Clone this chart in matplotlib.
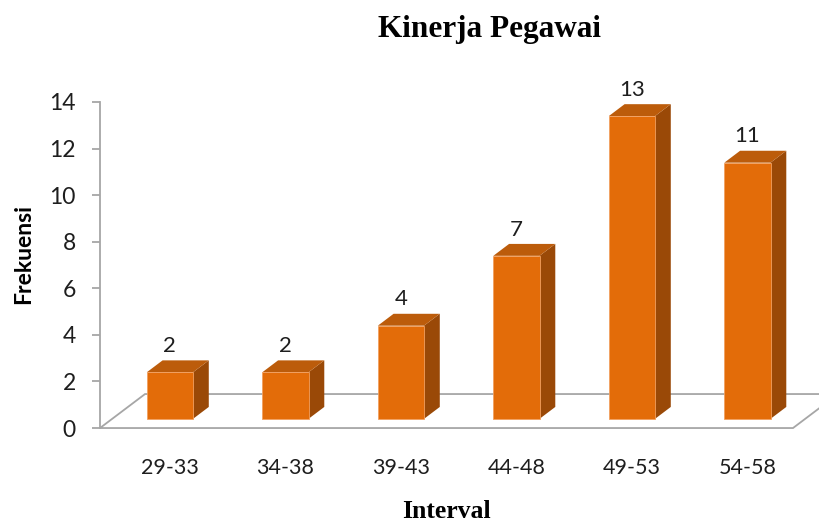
import matplotlib.pyplot as plt
from matplotlib.patches import Polygon

# Data
intervals = ["29-33", "34-38", "39-43", "44-48", "49-53", "54-58"]
frekuensi = [2, 2, 4, 7, 13, 11]
y_ticks = [0, 2, 4, 6, 8, 10, 12, 14]

# 3D look: floor depth offsets (x in category units, y in value units)
DX = 0.39
DY = 1.46
Z_FRONT = 0.27   # bar front face depth position on the floor
DEPTH = 0.35     # bar depth as a fraction of floor depth
BAR_W = 0.40

C_FRONT = '#E36C09'
C_TOP = '#BC5C0B'
C_SIDE = '#9A4907'
C_EDGE = '#F2A060'
C_GRID = '#A6A6A6'
C_TEXT = '#1E1E1E'

fig = plt.figure(figsize=(8.19, 5.27), dpi=100)
ax = fig.add_axes([100 / 819, 0.1436, 719 / 819, 0.7292])
ax.set_xlim(-0.5, 5.725)
ax.set_ylim(-1, 15.5)

# Floor
n = len(intervals)
floor = Polygon([(-0.5, 0), (n - 0.5, 0), (n - 0.5 + DX, DY), (-0.5 + DX, DY)],
                closed=True, facecolor='white', edgecolor=C_GRID, lw=1.3, zorder=1)
ax.add_patch(floor)

# Bars
for i, v in enumerate(frekuensi):
    xl = i - BAR_W / 2 + Z_FRONT * DX
    xr = xl + BAR_W
    y0 = Z_FRONT * DY
    top = y0 + v
    ddx, ddy = DEPTH * DX, DEPTH * DY
    ax.add_patch(Polygon([(xr, y0), (xr + ddx, y0 + ddy), (xr + ddx, top + ddy), (xr, top)],
                         closed=True, facecolor=C_SIDE, edgecolor='none', zorder=3))
    ax.add_patch(Polygon([(xl, top), (xr, top), (xr + ddx, top + ddy), (xl + ddx, top + ddy)],
                         closed=True, facecolor=C_TOP, edgecolor='none', zorder=3))
    ax.add_patch(Polygon([(xl, y0), (xr, y0), (xr, top), (xl, top)],
                         closed=True, facecolor=C_FRONT, edgecolor=C_EDGE, lw=0.6, zorder=4))
    ax.annotate(str(v), xy=(i + Z_FRONT * DX, top + ddy), xytext=(0, 6),
                textcoords='offset points', ha='center', va='baseline',
                fontsize=16, family='Lato', color=C_TEXT)

# Axes styling
for s in ['top', 'right', 'bottom']:
    ax.spines[s].set_visible(False)
ax.spines['left'].set_bounds(0, 14)
ax.spines['left'].set_color(C_GRID)
ax.spines['left'].set_linewidth(1.3)

ax.set_yticks(y_ticks)
ax.set_yticklabels([str(t) for t in y_ticks], fontsize=16.5, family='Lato', color=C_TEXT)
ax.tick_params(axis='y', length=5.5, width=1.3, color=C_GRID, pad=12)

ax.set_xticks([i + Z_FRONT * DX for i in range(n)])
ax.set_xticklabels(intervals, fontsize=15.5, family='Lato', color=C_TEXT)
ax.tick_params(axis='x', length=0, pad=5)

# Titles
fig.text(490 / 819, 1 - 37 / 527, 'Kinerja Pegawai', ha='center', va='baseline',
         fontsize=22.5, fontweight='bold', family='Liberation Serif')
fig.text(446 / 819, 1 - 518 / 527, 'Interval', ha='center', va='baseline',
         fontsize=18.5, fontweight='bold', family='Liberation Serif')
fig.text(24 / 819, 1 - 254 / 527, 'Frekuensi', ha='center', va='center', rotation=90,
         fontsize=16.5, fontweight='bold', family='Lato')

fig.savefig('out.png', dpi=100)
